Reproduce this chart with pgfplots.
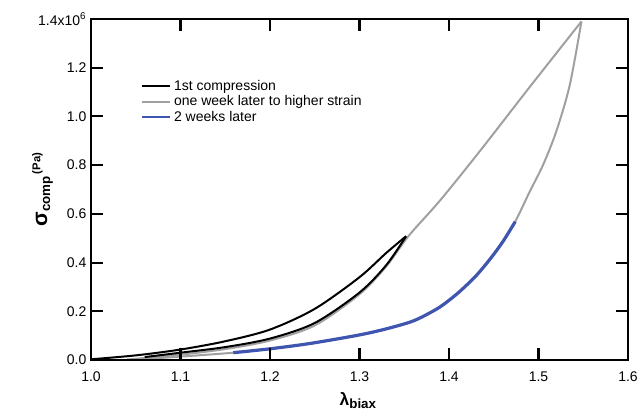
\documentclass[border=0pt]{standalone}
\usepackage{fontspec}
\setmainfont{Liberation Sans}
\usepackage{pgfplots}
\pgfplotsset{compat=1.18}
\definecolor{grayc}{HTML}{A0A0A0}
\definecolor{bluec}{HTML}{3F55B0}
\begin{document}
\begin{tikzpicture}
\path[use as bounding box] (-68.25pt,-39pt) rectangle (411pt,270pt);
\begin{axis}[
    scale only axis,
    width=402.75pt,
    height=255.75pt,
    xmin=1.0, xmax=1.6,
    ymin=0, ymax=1.4,
    clip=false,
    unbounded coords=jump,
    xtick={1.0,1.1,1.2,1.3,1.4,1.5,1.6},
    ytick={0,0.2,0.4,0.6,0.8,1.0,1.2,1.4},
    axis line style={line width=1.6pt},
    major tick length=9pt,
    tick style={line width=1.6pt, black},
    xticklabel={\pgfmathprintnumber[fixed,fixed zerofill,precision=1,assume math mode=true]{\tick}},
    yticklabel={\pgfmathparse{\tick>1.3}\ifdim\pgfmathresult pt>0.5pt 1.4x10\textsuperscript{6}\else\pgfmathprintnumber[fixed,fixed zerofill,precision=1,assume math mode=true]{\tick}\fi},
    ticklabel style={font=\fontsize{10.5}{12}\selectfont},
    xticklabel style={yshift=-5pt},
    xlabel={{\fontsize{13}{14}\selectfont\bfseries λ}{\fontsize{10}{11}\selectfont\bfseries\raisebox{-0.45ex}{biax}}},
    ylabel={{\fontsize{16}{17}\selectfont\bfseries σ}{\fontsize{10}{11}\selectfont\bfseries\raisebox{-0.45ex}{comp}}\,{\fontsize{8.5}{9}\selectfont\bfseries\raisebox{1.1ex}{(Pa)}}},
    ylabel style={at={(axis description cs:-0.062,0.5)}, anchor=south},
    xlabel style={at={(axis description cs:0.497,-0.082)}, anchor=north},
    legend image code/.code={\draw[#1] (0cm,0cm) -- (0.6cm,0cm); \path (0.6cm,0cm) -- (0.75cm,0cm);},
    legend style={draw=none, fill=none, at={(0.085,0.837)}, anchor=north west,
        font=\fontsize{10.5}{12}\selectfont, row sep=-1.5pt},
    legend cell align=left,
]

% one week later to higher strain: loading
\addplot[color=grayc, line width=1.5pt, smooth, tension=0.5, forget plot]
    coordinates {
    (1.04,0.002)(1.1,0.022)(1.15,0.045)(1.2,0.08)(1.25,0.142)
    (1.3,0.27)(1.33,0.385)(1.355,0.51)(1.39,0.655)(1.435,0.86)
    (1.49,1.12)(1.548,1.39)
    };
% one week later to higher strain: unloading
\addplot[color=grayc, line width=1.5pt, smooth, tension=0.5, forget plot]
    coordinates {
    (1.548,1.39)(1.535,1.13)(1.52,0.94)(1.505,0.80)(1.49,0.69)(1.474,0.568)
    (1.46,0.485)(1.446,0.415)(1.43,0.345)(1.41,0.275)(1.39,0.218)(1.37,0.177)
    (1.356,0.155)(1.33,0.128)(1.3,0.103)(1.245,0.068)(1.2,0.046)
    (1.159,0.03)(1.1,0.014)(1.06,0.004)
    };

% 1st compression: upper branch
\addplot[color=black, line width=1.5pt, smooth, tension=0.5, forget plot]
    coordinates {
    (1.0,0.003)(1.05,0.019)(1.1,0.043)(1.15,0.077)(1.2,0.125)(1.25,0.21)
    (1.3,0.34)(1.33,0.44)(1.352,0.508)
    };
% 1st compression: lower branch
\addplot[color=black, line width=1.5pt, smooth, tension=0.5, forget plot]
    coordinates {
    (1.352,0.508)(1.33,0.39)(1.3,0.277)(1.25,0.152)(1.2,0.088)(1.15,0.053)
    (1.1,0.03)(1.06,0.012)
    };

% 2 weeks later
\addplot[color=bluec, line width=2.4pt, smooth, tension=0.5, forget plot]
    coordinates {
    (1.159,0.03)(1.2,0.046)(1.245,0.068)(1.3,0.103)(1.33,0.128)(1.356,0.155)
    (1.37,0.177)(1.39,0.218)(1.41,0.275)(1.43,0.345)(1.446,0.415)(1.46,0.485)(1.474,0.568)
    };

% axis frame
\addplot[color=black, line width=1.6pt, line join=miter, forget plot]
    coordinates {(1.3,0)(1.6,0)(1.6,1.4)(1.0,1.4)(1.0,0)(1.3,0)};
% inward tick marks, bottom and top
\addplot[color=black, line width=1.6pt, forget plot]
    coordinates {
    (1.1,0)(1.1,0.049)(1.1,nan) (1.2,0)(1.2,0.049)(1.2,nan)
    (1.3,0)(1.3,0.049)(1.3,nan) (1.4,0)(1.4,0.049)(1.4,nan)
    (1.5,0)(1.5,0.049)(1.5,nan)
    (1.1,1.4)(1.1,1.351)(1.1,nan) (1.2,1.4)(1.2,1.351)(1.2,nan)
    (1.3,1.4)(1.3,1.351)(1.3,nan) (1.4,1.4)(1.4,1.351)(1.4,nan)
    (1.5,1.4)(1.5,1.351)
    };
% inward tick marks, left and right
\addplot[color=black, line width=1.6pt, forget plot]
    coordinates {
    (1.0,0.2)(1.0134,0.2)(nan,0.2) (1.0,0.4)(1.0134,0.4)(nan,0.4)
    (1.0,0.6)(1.0134,0.6)(nan,0.6) (1.0,0.8)(1.0134,0.8)(nan,0.8)
    (1.0,1.0)(1.0134,1.0)(nan,1.0) (1.0,1.2)(1.0134,1.2)(nan,1.2)
    (1.6,0.2)(1.5866,0.2)(nan,0.2) (1.6,0.4)(1.5866,0.4)(nan,0.4)
    (1.6,0.6)(1.5866,0.6)(nan,0.6) (1.6,0.8)(1.5866,0.8)(nan,0.8)
    (1.6,1.0)(1.5866,1.0)(nan,1.0) (1.6,1.2)(1.5866,1.2)
    };

\addlegendimage{color=black, line width=1.5pt}
\addlegendentry{1st compression}
\addlegendimage{color=grayc, line width=1.5pt}
\addlegendentry{one week later to higher strain}
\addlegendimage{color=bluec, line width=1.5pt}
\addlegendentry{2 weeks later}

\end{axis}
\end{tikzpicture}
\end{document}
